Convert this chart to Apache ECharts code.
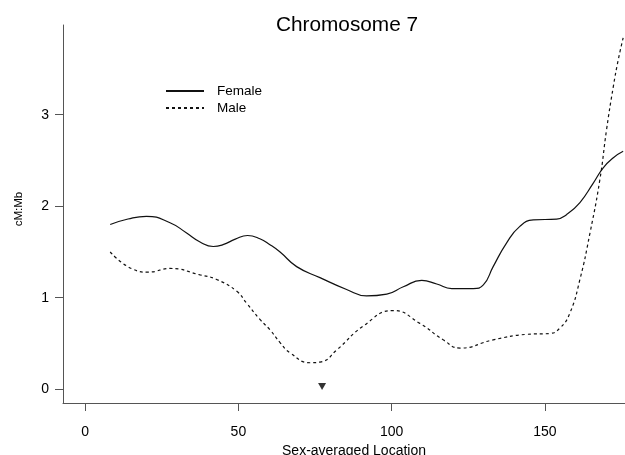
<!DOCTYPE html>
<html>
<head>
<meta charset="utf-8">
<script src="https://cdn.jsdelivr.net/npm/echarts@6/dist/echarts.min.js"></script>
<style>html,body{margin:0;padding:0;background:#fff}#c{width:625px;height:455px}</style>
</head>
<body>
<div id="c"></div>
<script>
var femaleX = [8.2,14,20,27.7,33,37.5,41.8,45,49,53,57,60.3,63.6,69,76.6,85.3,91.8,98.4,103.8,109.8,114.7,119.6,126.6,129.9,133.1,137.5,141.8,146.2,153.8,157.1,161.4,165.7,169,172.3,175.5];
var femaleY = [1.80,1.86,1.89,1.82,1.71,1.61,1.56,1.58,1.64,1.68,1.645,1.58,1.50,1.34,1.22,1.09,1.02,1.04,1.12,1.19,1.15,1.10,1.10,1.14,1.34,1.60,1.78,1.85,1.86,1.91,2.04,2.25,2.42,2.53,2.60];
var maleX = [8.2,15.7,20.6,27.7,37.5,42.9,49.5,52.7,57.1,60.3,63.6,66.8,73.4,77,82.1,90.7,100.5,109.2,116.8,122.3,133.1,144.0,151.6,154.9,158.1,161.4,164.7,167.9,170.1,172.3,173.9,175.5];
var maleY = [1.50,1.31,1.28,1.32,1.25,1.20,1.07,0.94,0.76,0.65,0.51,0.40,0.29,0.30,0.43,0.69,0.86,0.72,0.54,0.45,0.54,0.60,0.61,0.67,0.83,1.20,1.71,2.29,2.84,3.31,3.60,3.84];
var markerX = [77.3];
var markerY = [0.03];
var xTicks = [0,50,100,150];
var yTicks = [0,1,2,3];

function pairs(xs, ys){ return xs.map(function(x,i){return [x, ys[i]];}); }

var font = 'Liberation Sans, Arial, sans-serif';
var chart = echarts.init(document.getElementById('c'));
chart.setOption({
  animation: false,
  backgroundColor: '#fff',
  title: {
    text: 'Chromosome 7', left: 342, top: 10, textAlign: 'center',
    textStyle: {fontFamily: font, fontSize: 20.8, fontWeight: 'normal', color: '#000'}
  },
  legend: {
    orient: 'vertical', left: 165, top: 84, padding: 0, itemWidth: 38, itemHeight: 14, itemGap: 3,
    itemStyle: {opacity: 0},
    textStyle: {fontFamily: font, fontSize: 13.5, color: '#000', padding: [0,0,0,8]},
    data: ['Female', 'Male']
  },
  grid: {left: 63, right: 0, top: 25, bottom: 52, containLabel: false, outerBoundsMode: 'none'},
  xAxis: {
    type: 'value', min: -7.2, max: 176.1,
    name: 'Sex-averaged Location', nameLocation: 'middle', nameGap: 40,
    nameTextStyle: {fontFamily: font, fontSize: 14, color: '#000', padding: [0,0,0,20]},
    axisLine: {show: true, onZero: false, lineStyle: {color: '#555', width: 1}},
    axisTick: {show: true, length: 8, customValues: xTicks, lineStyle: {color: '#555'}},
    axisLabel: {customValues: xTicks, margin: 22, fontFamily: font, fontSize: 14, color: '#000'},
    splitLine: {show: false}
  },
  yAxis: {
    type: 'value', min: -0.15, max: 3.98,
    name: 'cM:Mb', nameLocation: 'middle', nameGap: 38, nameRotate: 90,
    nameTextStyle: {fontFamily: font, fontSize: 11.5, color: '#000', padding: [0,0,0,10]},
    axisLine: {show: true, onZero: false, lineStyle: {color: '#555', width: 1}},
    axisTick: {show: true, length: 8, customValues: yTicks, lineStyle: {color: '#555'}},
    axisLabel: {customValues: yTicks, margin: 14, fontFamily: font, fontSize: 14, color: '#000'},
    splitLine: {show: false}
  },
  series: [
    {
      name: 'Female', type: 'line', data: pairs(femaleX, femaleY), smooth: 0.5,
      symbol: 'none', showSymbol: false, clip: true,
      lineStyle: {color: '#111', width: 1.2, type: 'solid'}, itemStyle: {color: '#111'}
    },
    {
      name: 'Male', type: 'line', data: pairs(maleX, maleY), smooth: 0.5,
      symbol: 'none', showSymbol: false, clip: true,
      lineStyle: {color: '#111', width: 1.2, type: [3, 3]}, itemStyle: {color: '#111'}
    },
    {
      name: 'marker', type: 'scatter', data: pairs(markerX, markerY),
      symbol: 'triangle', symbolRotate: 180, symbolSize: [8, 7],
      itemStyle: {color: '#000'}
    }
  ]
});
</script>
</body>
</html>
